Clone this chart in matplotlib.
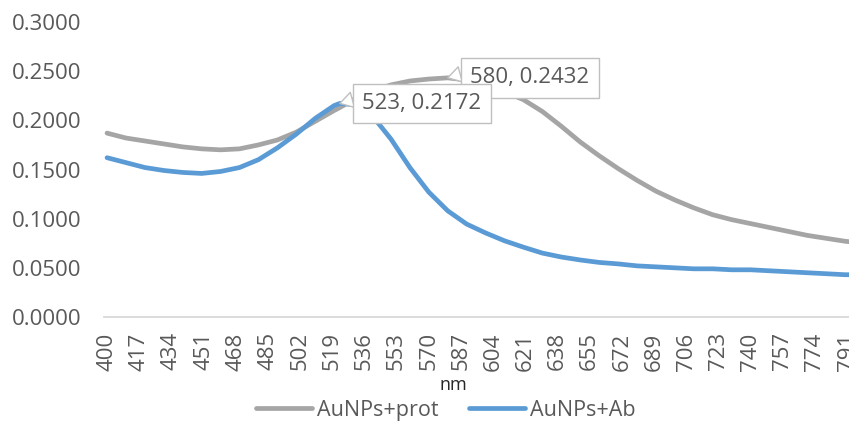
import matplotlib
matplotlib.use("Agg")
import matplotlib.pyplot as plt

plt.rcParams['font.family'] = ['Open Sans', 'DejaVu Sans']

# Absorbance spectra (wavelength in nm)
wavelength = [400, 410, 420, 430, 440, 450, 460, 470, 480, 490, 500, 510, 520, 523,
              530, 540, 550, 560, 570, 580, 590, 600, 610, 620, 630, 640, 650, 660,
              670, 680, 690, 700, 710, 720, 730, 740, 750, 760, 770, 780, 790, 800]

aunps_prot = [0.187, 0.182, 0.179, 0.176, 0.173, 0.171, 0.170, 0.171, 0.175, 0.180,
              0.188, 0.199, 0.210, 0.213, 0.221, 0.230, 0.236, 0.240, 0.242, 0.2432,
              0.241, 0.236, 0.229, 0.221, 0.209, 0.194, 0.178, 0.164, 0.151, 0.139,
              0.128, 0.119, 0.111, 0.104, 0.099, 0.095, 0.091, 0.087, 0.083, 0.080,
              0.077, 0.075]

aunps_ab = [0.162, 0.157, 0.152, 0.149, 0.147, 0.146, 0.148, 0.152, 0.160, 0.172,
            0.186, 0.202, 0.215, 0.2172, 0.216, 0.205, 0.181, 0.152, 0.127, 0.108,
            0.0945, 0.0855, 0.0775, 0.071, 0.065, 0.061, 0.058, 0.0555, 0.054, 0.052,
            0.051, 0.050, 0.049, 0.049, 0.048, 0.048, 0.047, 0.046, 0.045, 0.044,
            0.043, 0.043]

series_names = ["AuNPs+prot", "AuNPs+Ab"]
peaks = [(580, 0.2432), (523, 0.2172)]

x_ticks = list(range(400, 792, 17))
y_ticks = [0.0, 0.05, 0.10, 0.15, 0.20, 0.25, 0.30]

GRAY = '#A5A5A5'
BLUE = '#5B9BD5'
TEXT = '#595959'

W, H = 849, 423
fig = plt.figure(figsize=(W / 100, H / 100), dpi=100)
ax = fig.add_axes([104 / W, (H - 317) / H, 762 / W, 295 / H])

ax.plot(wavelength, aunps_prot, color=GRAY, lw=3.4, solid_capstyle='round',
        solid_joinstyle='round', label=series_names[0], zorder=2)
ax.plot(wavelength, aunps_ab, color=BLUE, lw=3.4, solid_capstyle='round',
        solid_joinstyle='round', label=series_names[1], zorder=3)

ax.set_xlim(398.4, 801)
ax.set_ylim(0, 0.30)
ax.set_xticks(x_ticks)
ax.set_xticklabels([str(v) for v in x_ticks], rotation=90)
ax.set_yticks(y_ticks)
ax.set_yticklabels([f"{v:.4f}" for v in y_ticks])
ax.tick_params(axis='both', length=0, colors=TEXT, labelsize=16)
ax.tick_params(axis='y', pad=16)
ax.tick_params(axis='x', pad=11)

for side in ['top', 'right', 'left']:
    ax.spines[side].set_visible(False)
ax.spines['bottom'].set_color('#D9D9D9')
ax.spines['bottom'].set_linewidth(1.3)

# Data callouts at the absorbance maxima
for (px, py) in peaks:
    ax.annotate(f"{px}, {py:.4f}", xy=(px, py), xytext=(59, 0),
                textcoords='offset points', ha='center', va='center',
                fontsize=16, color=TEXT, zorder=5,
                bbox=dict(boxstyle='square,pad=0.42', fc='white', ec='#BFBFBF', lw=1),
                arrowprops=dict(arrowstyle='wedge,tail_width=0.7,shrink_factor=0.5',
                                fc='white', ec='#BFBFBF', lw=1,
                                relpos=(0.0, 0.8), shrinkA=0, shrinkB=0))

fig.text(453 / W, 1 - 385 / H, "nm", ha='center', va='center', fontsize=13,
         color='#262626')

fig.legend(loc='center', bbox_to_anchor=(446 / W, 1 - 410 / H), ncol=2,
           frameon=False, fontsize=15.5, handlelength=2.6, handletextpad=0.25,
           columnspacing=1.4, labelcolor=TEXT)

fig.savefig("out.png", dpi=100)
